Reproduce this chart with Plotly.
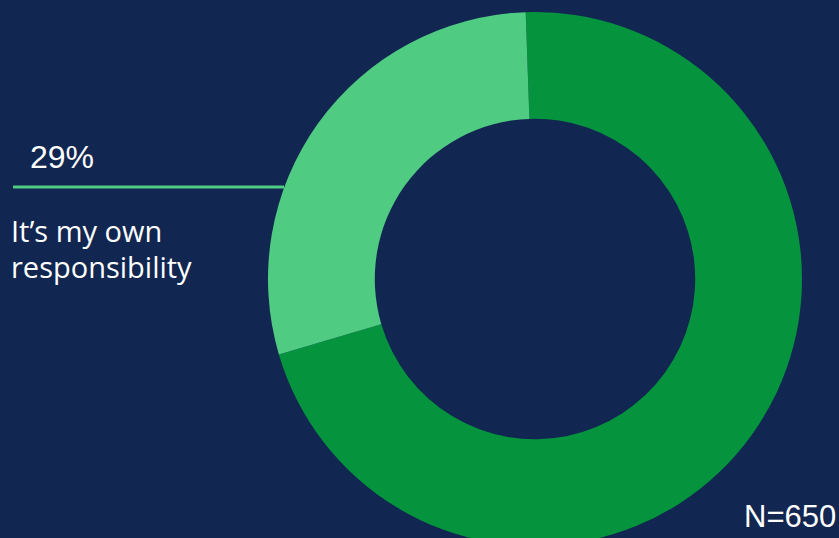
import plotly.graph_objects as go

labels = ["Other", "It’s my own responsibility"]
values = [71, 29]
colors = ["#05933E", "#4FCB82"]
pct_label = "29%"
cat_lines = ["It’s my own", "responsibility"]
n_label = "N=650"

W, H = 839, 560
BG = "#112650"

def py(p):
    return 1 - p / H

def px(p):
    return p / W

fig = go.Figure(go.Pie(
    labels=labels, values=values, hole=0.6, sort=False,
    direction="clockwise", rotation=-2,
    marker=dict(colors=colors, line=dict(width=0)),
    textinfo="none", showlegend=False,
    domain=dict(x=[px(268), px(802)], y=[py(546), py(12)]),
))

fig.add_shape(type="line", xref="paper", yref="paper",
              x0=px(13), x1=px(284), y0=py(187), y1=py(187),
              line=dict(color="#4FCB82", width=3))

fig.add_annotation(text=pct_label, xref="paper", yref="paper", x=px(28), y=py(157),
                   xanchor="left", yanchor="middle", showarrow=False,
                   font=dict(family="Liberation Sans, Arial", size=32, color="white"))
for i, t in enumerate(cat_lines):
    fig.add_annotation(text=t, xref="paper", yref="paper", x=px(9), y=py(230 + 36 * i),
                       xanchor="left", yanchor="middle", showarrow=False, align="left",
                       font=dict(family="Open Sans", size=29, color="white"))
fig.add_annotation(text=n_label, xref="paper", yref="paper", x=px(838), y=py(516),
                   xanchor="right", yanchor="middle", showarrow=False,
                   font=dict(family="Liberation Sans, Arial", size=31, color="white"))

fig.update_layout(width=W, height=H, margin=dict(l=0, r=0, t=0, b=0),
                  paper_bgcolor=BG, plot_bgcolor=BG)

fig.write_html("out.html", post_script="document.body.style.overflow='hidden';document.documentElement.style.overflow='hidden';")
